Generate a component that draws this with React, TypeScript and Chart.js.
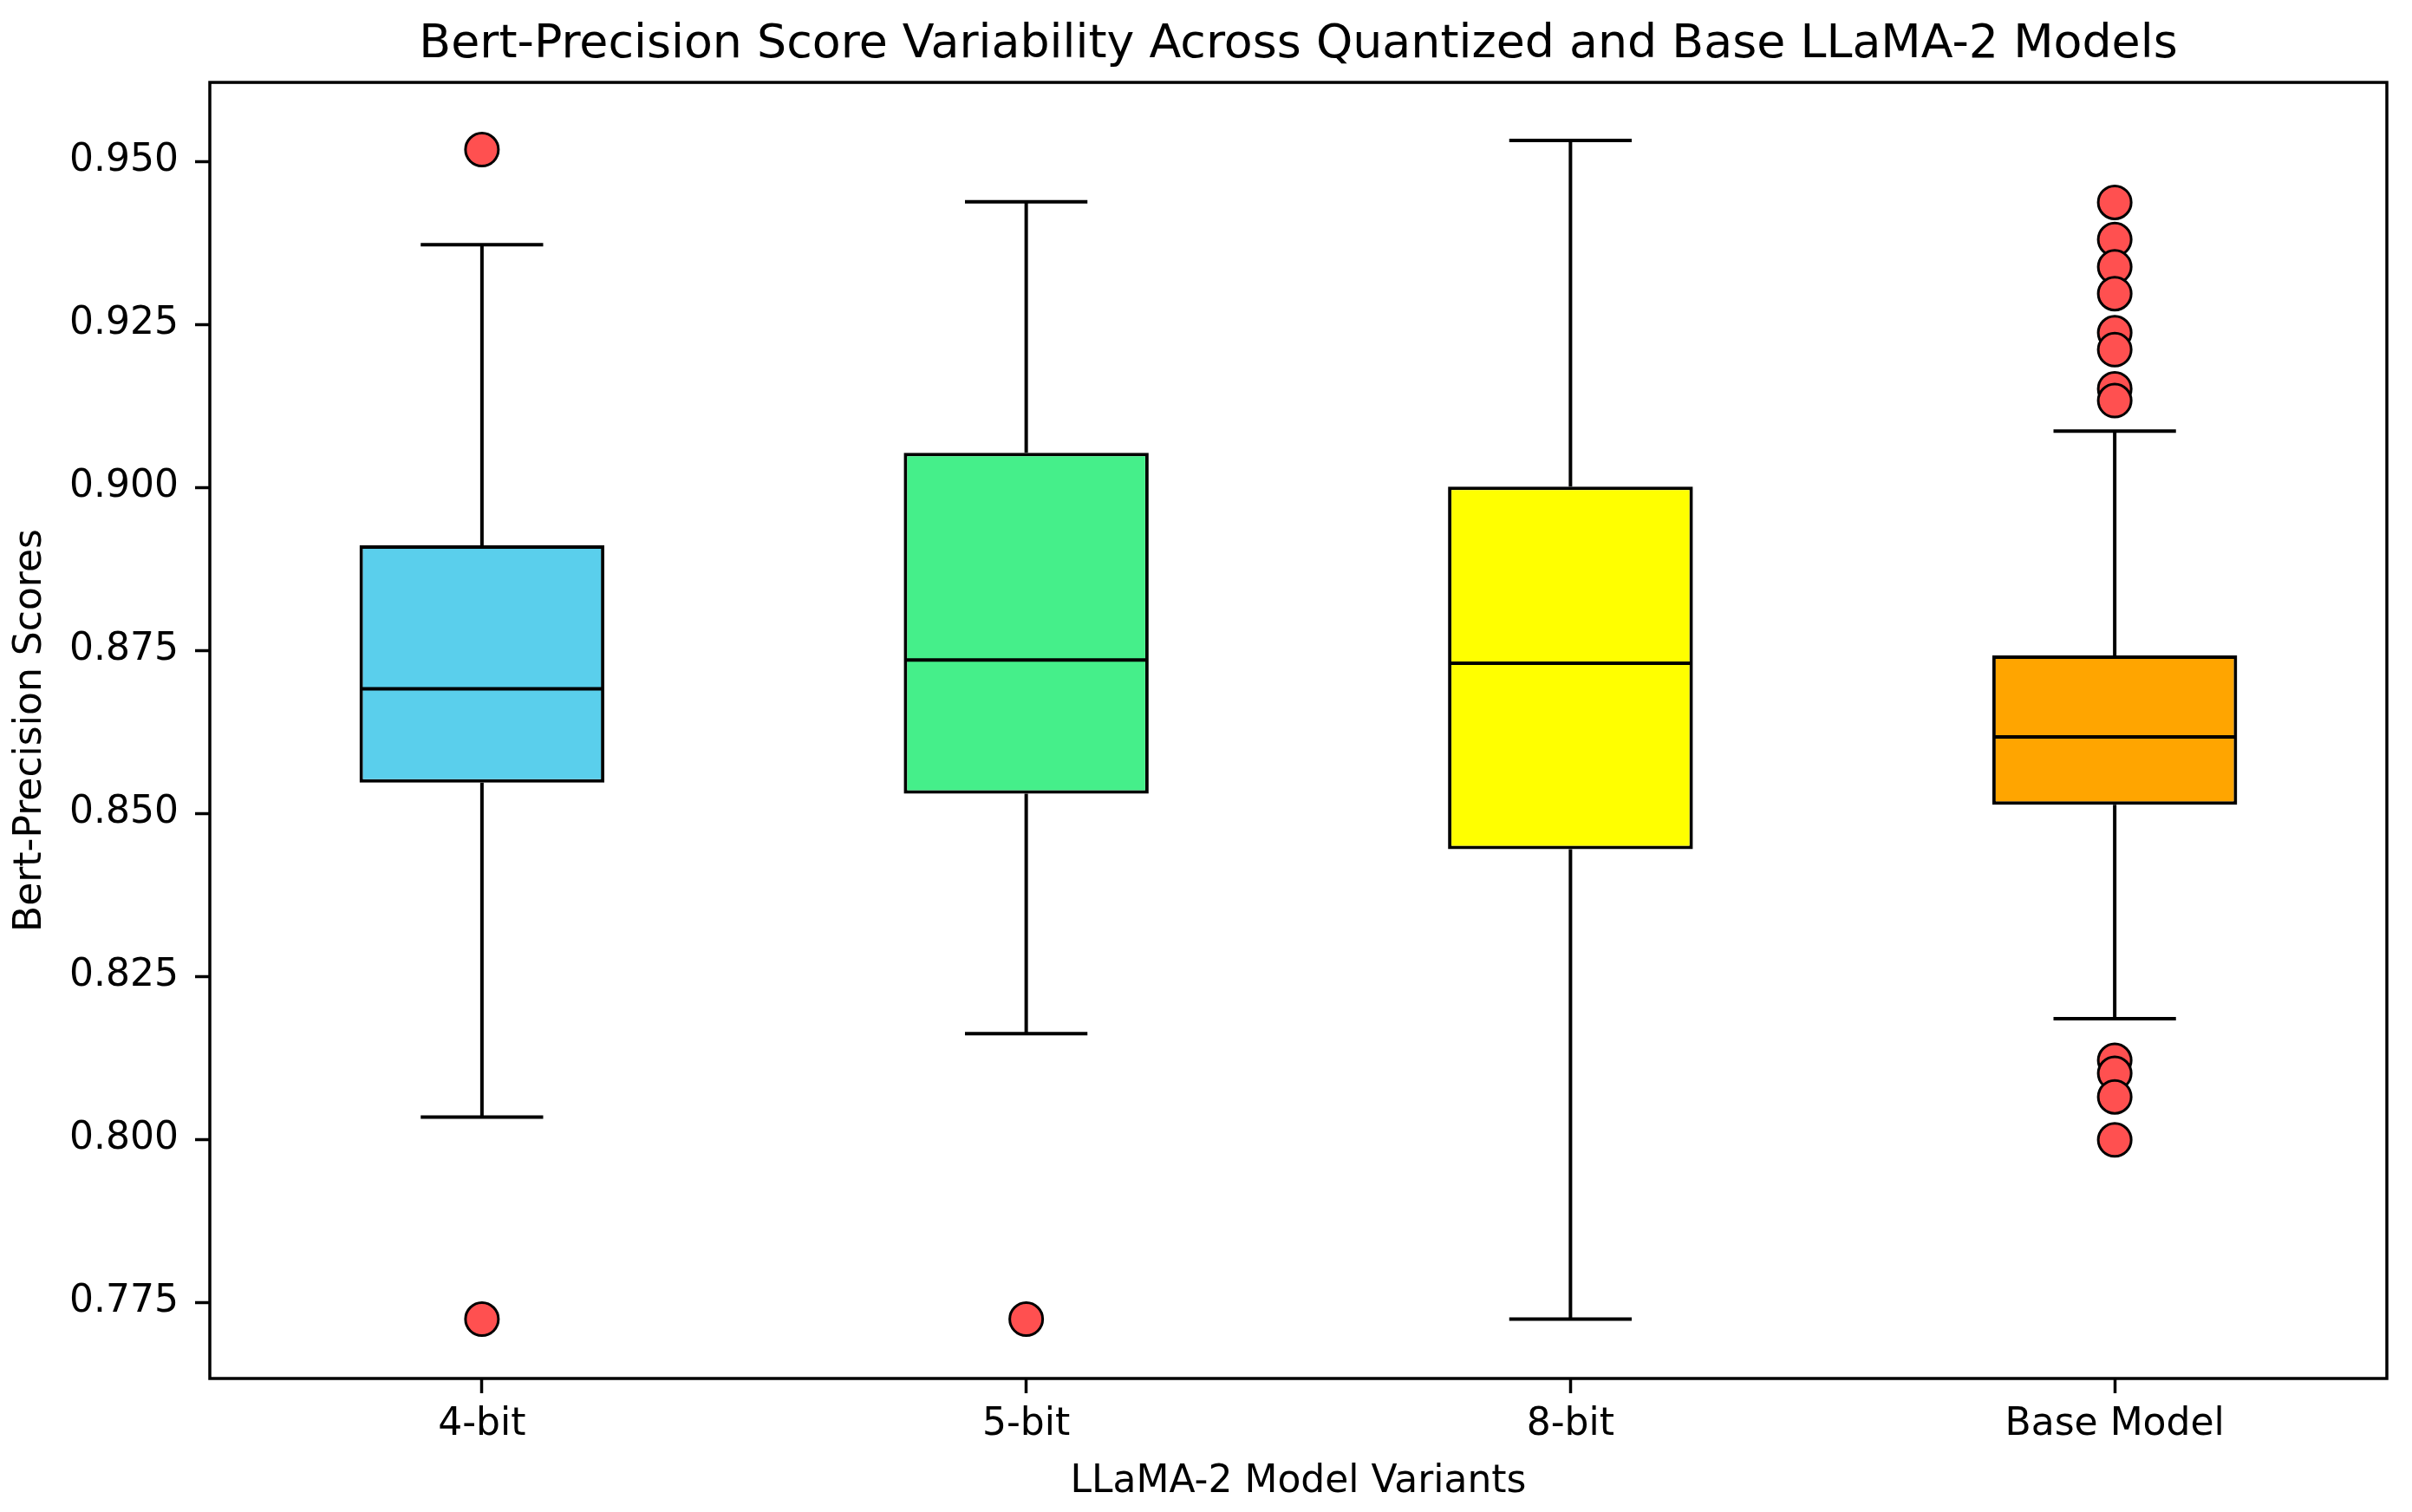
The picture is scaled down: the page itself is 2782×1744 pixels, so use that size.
import React, { useEffect, useRef } from 'react';
import { Chart, registerables } from 'chart.js';

Chart.register(...registerables);

const categories = ['4-bit', '5-bit', '8-bit', 'Base Model'];
const q1Values = [0.8547, 0.853, 0.8445, 0.8513];
const medianValues = [0.8691, 0.8735, 0.873, 0.8617];
const q3Values = [0.8911, 0.9053, 0.9001, 0.8742];
const whiskerLow = [0.8034, 0.8162, 0.7724, 0.8185];
const whiskerHigh = [0.9372, 0.9438, 0.9532, 0.9086];
const outliers4bit = [0.9518, 0.7724];
const outliers5bit = [0.7724];
const outliers8bit: number[] = [];
const outliersBase = [0.9437, 0.938, 0.9338, 0.9297, 0.9237, 0.9211, 0.9151, 0.9133, 0.8121, 0.8101, 0.8065, 0.7999];
const yMin = 0.7633;
const yMax = 0.9621;
const yStep = 0.025;

const boxColors = ['#5acfec', '#45ef8a', '#ffff00', '#ffa500'];
const FONT = 'DejaVu Sans';

const boxPlugin = {
  id: 'boxWhiskers',
  beforeDatasetsDraw(chart: any) {
    const ctx = chart.ctx;
    const xs = chart.scales.x;
    const ys = chart.scales.y;
    const meta = chart.getDatasetMeta(0);
    ctx.save();
    ctx.strokeStyle = '#000';
    ctx.lineWidth = 4;
    categories.forEach((_, i) => {
      const x = xs.getPixelForValue(i);
      const bw = meta.data[i] ? meta.data[i].width : 280;
      const capHalf = bw / 4;
      const yq1 = ys.getPixelForValue(q1Values[i]);
      const yq3 = ys.getPixelForValue(q3Values[i]);
      const ylo = ys.getPixelForValue(whiskerLow[i]);
      const yhi = ys.getPixelForValue(whiskerHigh[i]);
      ctx.beginPath();
      ctx.moveTo(x, yq3);
      ctx.lineTo(x, yhi);
      ctx.moveTo(x, yq1);
      ctx.lineTo(x, ylo);
      ctx.moveTo(x - capHalf, yhi);
      ctx.lineTo(x + capHalf, yhi);
      ctx.moveTo(x - capHalf, ylo);
      ctx.lineTo(x + capHalf, ylo);
      ctx.stroke();
    });
    ctx.restore();
  },
  afterDatasetsDraw(chart: any) {
    const ctx = chart.ctx;
    const xs = chart.scales.x;
    const ys = chart.scales.y;
    const meta = chart.getDatasetMeta(0);
    ctx.save();
    ctx.strokeStyle = '#000';
    ctx.lineWidth = 4;
    categories.forEach((_, i) => {
      const x = xs.getPixelForValue(i);
      const bw = meta.data[i] ? meta.data[i].width : 280;
      const ym = ys.getPixelForValue(medianValues[i]);
      ctx.beginPath();
      ctx.moveTo(x - bw / 2 + 2, ym);
      ctx.lineTo(x + bw / 2 - 2, ym);
      ctx.stroke();
    });
    ctx.restore();
  },
  afterDraw(chart: any) {
    const { ctx, chartArea } = chart;
    ctx.save();
    ctx.strokeStyle = '#000';
    ctx.lineWidth = 3.5;
    ctx.strokeRect(chartArea.left, chartArea.top, chartArea.right - chartArea.left, chartArea.bottom - chartArea.top);
    ctx.restore();
  },
};

export default function App() {
  const ref = useRef<HTMLCanvasElement>(null);
  useEffect(() => {
    const canvas = ref.current;
    if (!canvas) return;
    const outlierGroups = [outliers4bit, outliers5bit, outliers8bit, outliersBase];
    const outlierPoints = categories.flatMap((c, i) => outlierGroups[i].map((v) => ({ x: c, y: v })));
    const chart = new Chart(canvas, {
      type: 'bar',
      data: {
        labels: categories,
        datasets: [
          {
            type: 'bar',
            data: categories.map((_, i) => [q1Values[i], q3Values[i]]) as any,
            backgroundColor: boxColors,
            borderColor: '#000',
            borderWidth: 4,
            borderSkipped: false,
            categoryPercentage: 1,
            barPercentage: 0.45,
            order: 2,
          } as any,
          {
            type: 'line',
            data: outlierPoints as any,
            showLine: false,
            pointRadius: 19,
            pointHoverRadius: 19,
            pointBackgroundColor: '#ff5050',
            pointBorderColor: '#000',
            pointBorderWidth: 3,
            order: 1,
          } as any,
        ],
      },
      options: {
        animation: false,
        responsive: false,
        devicePixelRatio: 1,
        layout: { padding: { left: 0, right: 29, top: 0, bottom: 0 } },
        plugins: {
          legend: { display: false },
          tooltip: { enabled: false },
          title: {
            display: true,
            fullSize: false,
            text: 'Bert-Precision Score Variability Across Quantized and Base LLaMA-2 Models',
            color: '#000',
            font: { family: FONT, size: 53.8, weight: 'normal' },
            padding: { top: 19.5, bottom: 11 },
          },
        },
        scales: {
          x: {
            type: 'category',
            offset: true,
            grid: {
              display: true,
              drawOnChartArea: false,
              drawTicks: true,
              tickLength: 17,
              tickWidth: 3.5,
              tickColor: '#000',
              offset: false,
            },
            border: { display: false },
            ticks: {
              color: '#000',
              font: { family: FONT, size: 44 },
              padding: 10,
              maxRotation: 0,
              autoSkip: false,
            },
            title: {
              display: true,
              text: 'LLaMA-2 Model Variants',
              color: '#000',
              font: { family: FONT, size: 44 },
              padding: { top: 0, bottom: 8.5 },
            },
            afterFit: (s: any) => {
              s.height = 154;
            },
          },
          y: {
            type: 'linear',
            min: yMin,
            max: yMax,
            grid: {
              display: true,
              drawOnChartArea: false,
              drawTicks: true,
              tickLength: 17,
              tickWidth: 3.5,
              tickColor: '#000',
            },
            border: { display: false },
            ticks: {
              stepSize: yStep,
              includeBounds: false,
              color: '#000',
              font: { family: FONT, size: 44 },
              padding: 19,
              callback: (v: any) => Number(v).toFixed(3),
            },
            title: {
              display: true,
              text: 'Bert-Precision Scores',
              color: '#000',
              font: { family: FONT, size: 44 },
              padding: { top: 9, bottom: 0 },
            },
            afterFit: (s: any) => {
              s.width = 242;
            },
          },
        },
      } as any,
      plugins: [boxPlugin],
    });
    return () => chart.destroy();
  }, []);
  return (
    <div style={{ position: 'fixed', left: 0, top: 0, width: 2782, height: 1744, background: '#fff' }}>
      <canvas ref={ref} width={2782} height={1744} style={{ width: 2782, height: 1744, display: 'block' }} />
    </div>
  );
}
